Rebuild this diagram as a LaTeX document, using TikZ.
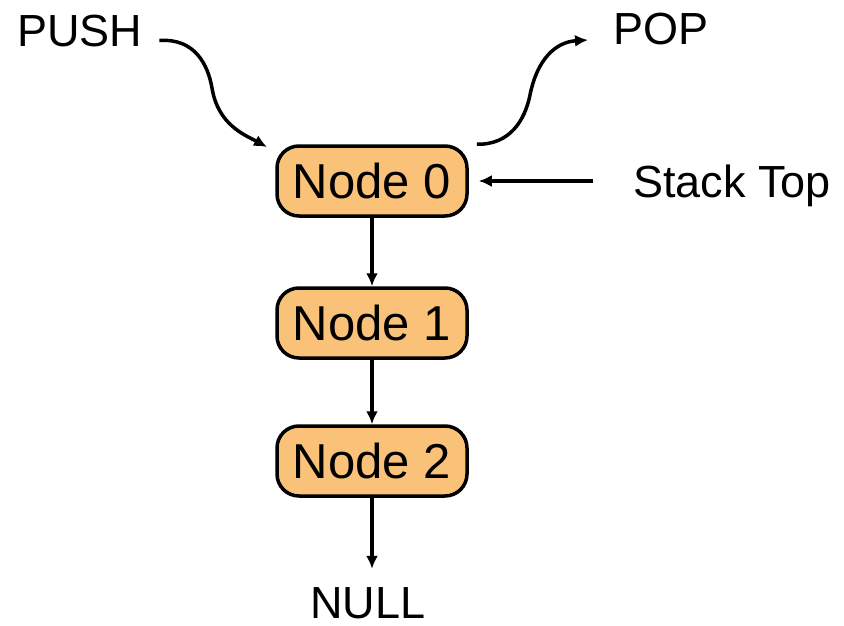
\documentclass[tikz,border=0pt]{standalone}
\usepackage{fontspec}
\setmainfont{Liberation Sans}
\usetikzlibrary{arrows.meta}
\definecolor{nodefill}{RGB}{250,194,120}
\begin{document}
\begin{tikzpicture}[x=1pt,y=-1pt,
  stacknode/.style={draw=black, line width=3.5pt, fill=nodefill, rounded corners=22pt,
    minimum width=190pt, minimum height=70pt, inner sep=0pt,
    font=\fontsize{49}{58}\selectfont},
  lbl/.style={inner sep=0pt, font=\fontsize{45}{54}\selectfont, anchor=base west},
  arr/.style={line width=3.5pt, -{Latex[length=13pt,width=12pt]}}]
\useasboundingbox (0,0) rectangle (844,626);
\node[stacknode] (n0) at (372,181) {Node 0};
\node[stacknode] (n1) at (372,323) {Node 1};
\node[stacknode] (n2) at (372,461) {Node 2};
\node[lbl] (push) at (17,47) {PUSH};
\node[lbl] (pop) at (613,45) {POP};
\node[lbl] (st) at (633,197) {Stack Top};
\node[lbl] (null) at (310,618) {NULL};
\coordinate (pushend) at (267,147);
\coordinate (popend) at (588,40);
\draw[arr] ([shift={(17,9)}]push.east) .. controls (195,38) and (208,65) .. (212,88)
  .. controls (218,125) and (245,135) .. (pushend);
\draw[arr] ([xshift=8]n0.north east) .. controls (510,145) and (525,120) .. (530,95)
  .. controls (537,60) and (555,42) .. (popend);
\draw[arr, shorten <=40pt, shorten >=10pt] (st.west |- n0.east) -- (n0.east);
\draw[arr] (n0) -- (n1);
\draw[arr] (n1) -- (n2);
\draw[arr, shorten >=18pt] (n2.south) -- (n2.south |- null.north);
\end{tikzpicture}
\end{document}
